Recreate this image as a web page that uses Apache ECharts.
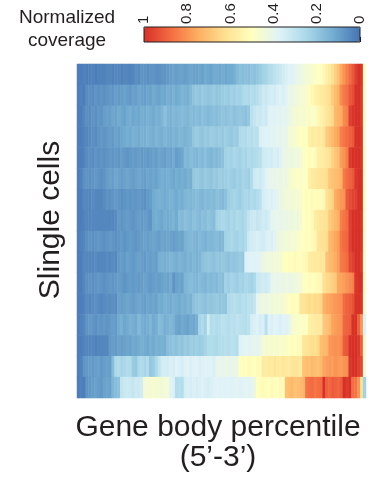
<!DOCTYPE html>
<html>
<head>
<meta charset="utf-8">
<script src="https://cdn.jsdelivr.net/npm/echarts@6/dist/echarts.min.js"></script>
<style>
  html, body { margin: 0; padding: 0; background: #ffffff; }
  #chart { width: 385px; height: 481px; }
</style>
</head>
<body>
<div id="chart"></div>
<script>
// Normalized read coverage along the gene body (5' -> 3'), one row per cell, 100 percentile bins.
const cell01 = [0.02,0.02,0.03,0.02,0.03,0.03,0.02,0.03,0.03,0.03, 0.04,0.04,0.03,0.04,0.04,0.03,0.04,0.04,0.03,0.04, 0.06,0.05,0.07,0.07,0.06,0.07,0.07,0.06,0.06,0.07, 0.07,0.08,0.09,0.10,0.09,0.10,0.10,0.09,0.10,0.11, 0.10,0.10,0.11,0.10,0.12,0.11,0.10,0.12,0.12,0.11, 0.12,0.11,0.12,0.12,0.13,0.16,0.18,0.17,0.18,0.17, 0.19,0.18,0.20,0.21,0.23,0.24,0.26,0.27,0.29,0.31, 0.32,0.34,0.36,0.38,0.37,0.39,0.41,0.42,0.43,0.45, 0.46,0.47,0.48,0.49,0.50,0.53,0.56,0.59,0.62,0.66, 0.70,0.76,0.80,0.84,0.88,0.92,0.97,1.00,0.99,0.48];
const cell02 = [0.02,0.03,0.02,0.05,0.06,0.05,0.07,0.06,0.07,0.06, 0.07,0.08,0.07,0.09,0.08,0.09,0.10,0.09,0.08,0.10, 0.09,0.11,0.10,0.09,0.11,0.10,0.12,0.11,0.10,0.12, 0.11,0.13,0.12,0.14,0.12,0.13,0.15,0.14,0.13,0.16, 0.19,0.20,0.19,0.21,0.20,0.19,0.20,0.21,0.19,0.20, 0.21,0.22,0.21,0.23,0.22,0.24,0.23,0.25,0.26,0.25, 0.27,0.26,0.28,0.30,0.33,0.32,0.34,0.35,0.34,0.36, 0.37,0.36,0.38,0.41,0.42,0.43,0.44,0.45,0.46,0.47, 0.51,0.53,0.55,0.56,0.58,0.59,0.61,0.63,0.68,0.71, 0.74,0.82,0.85,0.87,0.92,0.94,1.00,1.00,0.98,0.47];
const cell03 = [0.02,0.02,0.04,0.06,0.05,0.07,0.06,0.08,0.07,0.09, 0.10,0.09,0.11,0.10,0.12,0.11,0.10,0.12,0.13,0.11, 0.12,0.11,0.13,0.12,0.14,0.13,0.12,0.14,0.13,0.15, 0.18,0.15,0.14,0.16,0.15,0.16,0.17,0.16,0.15,0.17, 0.16,0.17,0.16,0.18,0.17,0.16,0.17,0.18,0.17,0.18, 0.19,0.18,0.19,0.20,0.18,0.19,0.20,0.19,0.18,0.20, 0.29,0.31,0.33,0.32,0.34,0.33,0.37,0.38,0.37,0.39, 0.38,0.40,0.39,0.41,0.44,0.45,0.46,0.47,0.46,0.48, 0.47,0.49,0.48,0.53,0.55,0.57,0.60,0.62,0.64,0.72, 0.74,0.75,0.82,0.84,0.97,0.99,1.00,1.00,0.98,0.47];
const cell04 = [0.02,0.02,0.03,0.04,0.05,0.06,0.05,0.07,0.08,0.07, 0.08,0.09,0.08,0.10,0.09,0.11,0.12,0.13,0.12,0.14, 0.13,0.12,0.14,0.13,0.15,0.14,0.13,0.15,0.14,0.13, 0.15,0.14,0.13,0.15,0.14,0.16,0.15,0.14,0.15,0.16, 0.20,0.21,0.20,0.19,0.21,0.20,0.22,0.21,0.20,0.21, 0.20,0.22,0.21,0.20,0.22,0.21,0.26,0.27,0.26,0.28, 0.27,0.29,0.28,0.36,0.37,0.38,0.37,0.39,0.38,0.40, 0.39,0.41,0.40,0.45,0.46,0.47,0.48,0.50,0.51,0.50, 0.56,0.58,0.57,0.59,0.58,0.60,0.68,0.70,0.72,0.75, 0.77,0.84,0.86,0.88,0.90,0.92,1.00,1.00,0.99,0.46];
const cell05 = [0.02,0.02,0.03,0.05,0.06,0.05,0.07,0.06,0.07,0.06, 0.07,0.08,0.07,0.08,0.07,0.09,0.08,0.07,0.08,0.09, 0.08,0.09,0.08,0.09,0.08,0.09,0.10,0.09,0.11,0.10, 0.09,0.11,0.10,0.12,0.09,0.10,0.11,0.16,0.15,0.17, 0.16,0.15,0.17,0.16,0.18,0.16,0.15,0.17,0.16,0.17, 0.18,0.23,0.24,0.23,0.25,0.24,0.23,0.25,0.24,0.26, 0.25,0.26,0.27,0.28,0.33,0.34,0.35,0.34,0.36,0.35, 0.37,0.41,0.42,0.43,0.42,0.44,0.43,0.45,0.49,0.50, 0.51,0.50,0.52,0.56,0.57,0.58,0.60,0.62,0.66,0.69, 0.71,0.78,0.80,0.84,0.98,1.00,1.00,1.00,0.99,0.47];
const cell06 = [0.02,0.03,0.06,0.07,0.06,0.07,0.08,0.07,0.06,0.07, 0.09,0.10,0.09,0.11,0.10,0.09,0.10,0.11,0.10,0.09, 0.10,0.11,0.10,0.09,0.11,0.10,0.11,0.10,0.12,0.13, 0.12,0.13,0.12,0.11,0.13,0.12,0.13,0.12,0.14,0.13, 0.20,0.21,0.20,0.19,0.21,0.20,0.19,0.21,0.20,0.22, 0.21,0.22,0.23,0.22,0.21,0.23,0.22,0.24,0.23,0.22, 0.26,0.33,0.34,0.33,0.35,0.38,0.40,0.41,0.40,0.42, 0.41,0.43,0.42,0.46,0.47,0.48,0.49,0.48,0.49,0.50, 0.56,0.58,0.59,0.60,0.61,0.62,0.63,0.69,0.70,0.71, 0.72,0.74,0.85,0.88,0.90,0.92,0.99,1.00,1.00,0.47];
const cell07 = [0.02,0.02,0.04,0.04,0.04,0.05,0.04,0.04,0.04,0.05, 0.07,0.06,0.07,0.08,0.07,0.06,0.07,0.08,0.07,0.08, 0.07,0.08,0.07,0.06,0.08,0.09,0.12,0.13,0.14,0.13, 0.12,0.13,0.14,0.13,0.12,0.14,0.13,0.15,0.16,0.15, 0.16,0.17,0.16,0.15,0.17,0.16,0.17,0.16,0.18,0.17, 0.16,0.18,0.22,0.23,0.24,0.23,0.22,0.24,0.25,0.24, 0.26,0.25,0.27,0.29,0.35,0.36,0.37,0.36,0.38,0.39, 0.42,0.43,0.44,0.45,0.44,0.46,0.45,0.47,0.50,0.51, 0.50,0.52,0.51,0.52,0.51,0.53,0.62,0.64,0.66,0.75, 0.77,0.79,0.80,0.92,0.94,0.96,0.97,1.00,1.00,0.48];
const cell08 = [0.02,0.02,0.03,0.04,0.04,0.04,0.04,0.04,0.04,0.04, 0.04,0.04,0.04,0.05,0.08,0.07,0.08,0.09,0.08,0.07, 0.08,0.09,0.08,0.09,0.08,0.07,0.12,0.13,0.12,0.11, 0.13,0.12,0.13,0.14,0.12,0.17,0.16,0.18,0.17,0.16, 0.18,0.17,0.16,0.18,0.17,0.19,0.18,0.17,0.23,0.24, 0.25,0.24,0.23,0.25,0.24,0.26,0.25,0.24,0.26,0.30, 0.32,0.33,0.31,0.32,0.34,0.33,0.35,0.39,0.40,0.41, 0.40,0.42,0.41,0.43,0.42,0.44,0.43,0.46,0.50,0.51, 0.50,0.52,0.57,0.59,0.60,0.61,0.62,0.68,0.70,0.72, 0.74,0.84,0.86,0.88,0.97,1.00,1.00,1.00,0.99,0.47];
const cell09 = [0.02,0.03,0.04,0.06,0.07,0.06,0.07,0.08,0.07,0.06, 0.07,0.08,0.07,0.06,0.07,0.08,0.07,0.08,0.09,0.08, 0.07,0.08,0.09,0.10,0.09,0.10,0.11,0.10,0.09,0.11, 0.10,0.11,0.10,0.09,0.10,0.11,0.10,0.14,0.15,0.16, 0.15,0.14,0.16,0.15,0.14,0.16,0.15,0.16,0.17,0.15, 0.16,0.23,0.24,0.25,0.24,0.23,0.25,0.24,0.26,0.33, 0.34,0.35,0.36,0.35,0.34,0.36,0.37,0.36,0.38,0.42, 0.43,0.44,0.45,0.44,0.46,0.45,0.48,0.49,0.50,0.51, 0.50,0.52,0.53,0.60,0.61,0.62,0.63,0.72,0.74,0.76, 0.78,0.86,0.88,0.89,0.97,1.00,1.00,1.00,0.99,0.46];
const cell10 = [0.02,0.02,0.04,0.04,0.04,0.04,0.05,0.04,0.04,0.04, 0.05,0.04,0.05,0.04,0.08,0.09,0.08,0.10,0.09,0.08, 0.09,0.10,0.09,0.08,0.10,0.09,0.10,0.09,0.13,0.14, 0.13,0.14,0.15,0.14,0.13,0.15,0.14,0.13,0.15,0.14, 0.15,0.14,0.15,0.18,0.19,0.20,0.19,0.18,0.20,0.19, 0.20,0.19,0.18,0.20,0.19,0.20,0.21,0.20,0.36,0.37, 0.38,0.37,0.38,0.39,0.42,0.43,0.44,0.43,0.45,0.44, 0.46,0.49,0.50,0.51,0.50,0.52,0.51,0.50,0.52,0.53, 0.57,0.58,0.59,0.58,0.60,0.59,0.70,0.72,0.73,0.75, 0.78,0.85,0.86,0.88,0.95,0.97,1.00,1.00,0.98,0.46];
const cell11 = [0.02,0.02,0.04,0.06,0.07,0.06,0.07,0.08,0.07,0.06, 0.07,0.08,0.07,0.08,0.09,0.08,0.07,0.08,0.09,0.08, 0.09,0.08,0.09,0.10,0.09,0.08,0.09,0.10,0.09,0.10, 0.11,0.10,0.12,0.07,0.10,0.11,0.10,0.15,0.16,0.17, 0.16,0.15,0.17,0.16,0.15,0.17,0.16,0.17,0.16,0.18, 0.17,0.23,0.22,0.24,0.23,0.22,0.24,0.23,0.25,0.24, 0.23,0.25,0.32,0.33,0.34,0.33,0.35,0.40,0.41,0.40, 0.42,0.41,0.43,0.42,0.41,0.43,0.44,0.45,0.49,0.50, 0.51,0.50,0.51,0.52,0.53,0.62,0.64,0.65,0.67,0.68, 0.76,0.77,0.78,0.80,0.82,0.84,0.99,1.00,1.00,0.47];
const cell12 = [0.02,0.02,0.03,0.05,0.04,0.05,0.06,0.05,0.04,0.05, 0.06,0.05,0.06,0.05,0.10,0.09,0.10,0.11,0.10,0.09, 0.10,0.11,0.10,0.09,0.11,0.10,0.11,0.10,0.13,0.12, 0.14,0.13,0.12,0.14,0.13,0.12,0.14,0.13,0.15,0.14, 0.18,0.19,0.20,0.19,0.18,0.20,0.19,0.20,0.21,0.19, 0.20,0.19,0.26,0.27,0.28,0.27,0.26,0.28,0.27,0.29, 0.29,0.31,0.40,0.42,0.43,0.42,0.44,0.43,0.45,0.44, 0.46,0.45,0.47,0.50,0.51,0.50,0.51,0.60,0.61,0.62, 0.63,0.62,0.64,0.63,0.65,0.74,0.76,0.77,0.78,0.79, 0.80,0.81,0.88,0.90,0.91,0.93,1.00,1.00,0.99,0.46];
const cell13 = [0.02,0.03,0.04,0.07,0.08,0.07,0.06,0.08,0.07,0.08, 0.07,0.08,0.09,0.08,0.12,0.13,0.11,0.12,0.14,0.13, 0.12,0.16,0.13,0.12,0.13,0.15,0.12,0.13,0.17,0.16, 0.13,0.14,0.15,0.14,0.11,0.10,0.12,0.11,0.10,0.12, 0.11,0.13,0.24,0.26,0.23,0.34,0.27,0.28,0.26,0.27, 0.29,0.28,0.27,0.29,0.28,0.30,0.29,0.28,0.27,0.29, 0.35,0.36,0.37,0.35,0.36,0.28,0.37,0.36,0.38,0.37, 0.36,0.38,0.37,0.40,0.45,0.47,0.48,0.49,0.48,0.50, 0.56,0.57,0.58,0.59,0.58,0.69,0.70,0.72,0.77,0.78, 0.79,0.80,0.89,0.90,0.91,1.00,1.00,0.90,0.80,0.37];
const cell14 = [0.02,0.02,0.03,0.04,0.04,0.04,0.03,0.04,0.04,0.04, 0.04,0.08,0.09,0.08,0.10,0.09,0.10,0.11,0.10,0.12, 0.11,0.12,0.13,0.12,0.11,0.13,0.12,0.14,0.13,0.14, 0.13,0.17,0.18,0.19,0.18,0.20,0.19,0.21,0.20,0.22, 0.21,0.22,0.21,0.22,0.24,0.26,0.27,0.26,0.25,0.27, 0.27,0.28,0.27,0.29,0.28,0.27,0.37,0.38,0.39,0.38, 0.39,0.40,0.39,0.41,0.45,0.46,0.47,0.46,0.47,0.46, 0.48,0.47,0.48,0.50,0.51,0.50,0.52,0.51,0.60,0.61, 0.62,0.63,0.62,0.64,0.71,0.72,0.73,0.79,0.80,0.81, 0.80,0.82,0.91,0.92,1.00,1.00,1.00,0.98,0.90,0.45];
const cell15 = [0.02,0.03,0.07,0.08,0.09,0.08,0.09,0.10,0.08,0.09, 0.10,0.09,0.17,0.25,0.26,0.24,0.25,0.27,0.26,0.21, 0.20,0.25,0.26,0.24,0.26,0.20,0.21,0.25,0.30,0.34, 0.35,0.34,0.36,0.35,0.37,0.36,0.35,0.37,0.38,0.36, 0.37,0.38,0.36,0.37,0.38,0.37,0.38,0.36,0.40,0.41, 0.40,0.42,0.41,0.40,0.42,0.41,0.50,0.51,0.50,0.52, 0.51,0.50,0.52,0.51,0.58,0.57,0.59,0.58,0.60,0.59, 0.58,0.60,0.59,0.58,0.60,0.61,0.60,0.59,0.70,0.71, 0.70,0.72,0.71,0.70,0.72,0.77,0.78,0.79,0.78,0.80, 0.79,0.78,0.80,0.81,0.99,1.00,1.00,0.97,0.95,0.45];
const cell16 = [0.02,0.03,0.02,0.07,0.08,0.09,0.10,0.09,0.08,0.10, 0.11,0.10,0.15,0.17,0.18,0.31,0.32,0.33,0.32,0.31, 0.33,0.32,0.34,0.45,0.46,0.45,0.47,0.46,0.45,0.44, 0.46,0.45,0.38,0.36,0.27,0.28,0.27,0.35,0.36,0.35, 0.36,0.35,0.36,0.37,0.36,0.35,0.36,0.37,0.38,0.37, 0.38,0.37,0.38,0.37,0.38,0.39,0.37,0.38,0.39,0.38, 0.39,0.42,0.50,0.51,0.52,0.51,0.50,0.52,0.51,0.50, 0.52,0.51,0.70,0.71,0.72,0.70,0.71,0.72,0.73,0.86, 0.87,0.88,0.86,0.87,0.88,1.00,0.90,0.89,0.91,0.90, 0.89,0.91,1.00,0.98,1.00,0.87,0.86,0.80,0.62,0.23];

const cells = [cell01, cell02, cell03, cell04, cell05, cell06, cell07, cell08,
               cell09, cell10, cell11, cell12, cell13, cell14, cell15, cell16];

// Colour legend ticks (normalized coverage, drawn high-to-low from left to right)
const legendTicks = [0, 0.2, 0.4, 0.6, 0.8, 1];
// Diverging palette, low coverage (blue) -> high coverage (red)
const palette = ['#4575b4', '#74add1', '#abd9e9', '#e0f3f8', '#ffffbf',
                 '#fee090', '#fdae61', '#f46d43', '#d73027'];

const FONT = 'Liberation Sans, Arial, Helvetica, sans-serif';
const TEXT = '#231f20';

const percentileBins = cells[0].map((_, i) => String(i + 1));
const cellNames = cells.map((_, i) => 'cell ' + (i + 1));

const heatData = [];
cells.forEach((row, r) => {
  row.forEach((v, c) => heatData.push([c, r, v]));
});

// geometry of the heatmap and of the colour bar
const heat = { left: 77, top: 64, width: 289, height: 334 };
const bar = { left: 144, top: 27, width: 216, height: 15 };

const chart = echarts.init(document.getElementById('chart'), null, { renderer: 'canvas' });

chart.setOption({
  animation: false,
  backgroundColor: '#ffffff',
  grid: [
    { left: heat.left, top: heat.top, width: heat.width, height: heat.height },
    { left: bar.left, top: bar.top, width: bar.width, height: bar.height }
  ],
  xAxis: [
    {
      gridIndex: 0, type: 'category', data: percentileBins,
      axisLine: { show: false }, axisTick: { show: false },
      axisLabel: { show: false }, splitLine: { show: false }
    },
    {
      gridIndex: 1, type: 'value', min: 0, max: 1, interval: 0.2,
      inverse: true, position: 'top',
      axisLine: { show: false },
      axisTick: { show: true, length: 5, lineStyle: { color: TEXT, width: 1 } },
      axisLabel: {
        show: true, rotate: 90, margin: 3, fontSize: 15, color: TEXT, fontFamily: FONT,
        formatter: v => (legendTicks.indexOf(v) >= 0 ? String(v) : '')
      },
      splitLine: { show: false }
    }
  ],
  yAxis: [
    {
      gridIndex: 0, type: 'category', data: cellNames, inverse: true,
      axisLine: { show: false }, axisTick: { show: false },
      axisLabel: { show: false }, splitLine: { show: false }
    },
    {
      gridIndex: 1, type: 'value', min: 0, max: 1, show: false
    }
  ],
  visualMap: {
    type: 'continuous',
    min: 0, max: 1,
    orient: 'horizontal',
    inverse: true,
    calculable: false,
    realtime: false,
    itemWidth: bar.height,
    itemHeight: bar.width,
    left: bar.left,
    top: bar.top,
    padding: 0,
    text: null,
    showLabel: false,
    seriesIndex: 0,
    inRange: { color: palette }
  },
  graphic: [
    {
      type: 'rect', z: 100, silent: true,
      shape: { x: bar.left, y: bar.top, width: bar.width, height: bar.height },
      style: { fill: null, stroke: TEXT, lineWidth: 1 }
    },
    {
      type: 'text', z: 100, silent: true,
      x: 67, y: 29,
      style: {
        text: 'Normalized\ncoverage', font: '19px ' + FONT, fill: TEXT,
        align: 'center', verticalAlign: 'middle', lineHeight: 23
      }
    },
    {
      type: 'text', z: 100, silent: true,
      x: 51, y: 220, rotation: Math.PI / 2,
      style: {
        text: 'Slingle cells', font: '30px ' + FONT, fill: TEXT,
        align: 'center', verticalAlign: 'middle'
      }
    },
    {
      type: 'text', z: 100, silent: true,
      x: 218, y: 443,
      style: {
        text: 'Gene body percentile\n(5\u2019-3\u2019)', font: '30px ' + FONT, fill: TEXT,
        align: 'center', verticalAlign: 'middle', lineHeight: 30
      }
    }
  ],
  series: [
    {
      type: 'heatmap',
      xAxisIndex: 0, yAxisIndex: 0,
      data: heatData,
      itemStyle: { borderWidth: 0 },
      emphasis: { disabled: true },
      progressive: 0
    }
  ]
});
</script>
</body>
</html>
